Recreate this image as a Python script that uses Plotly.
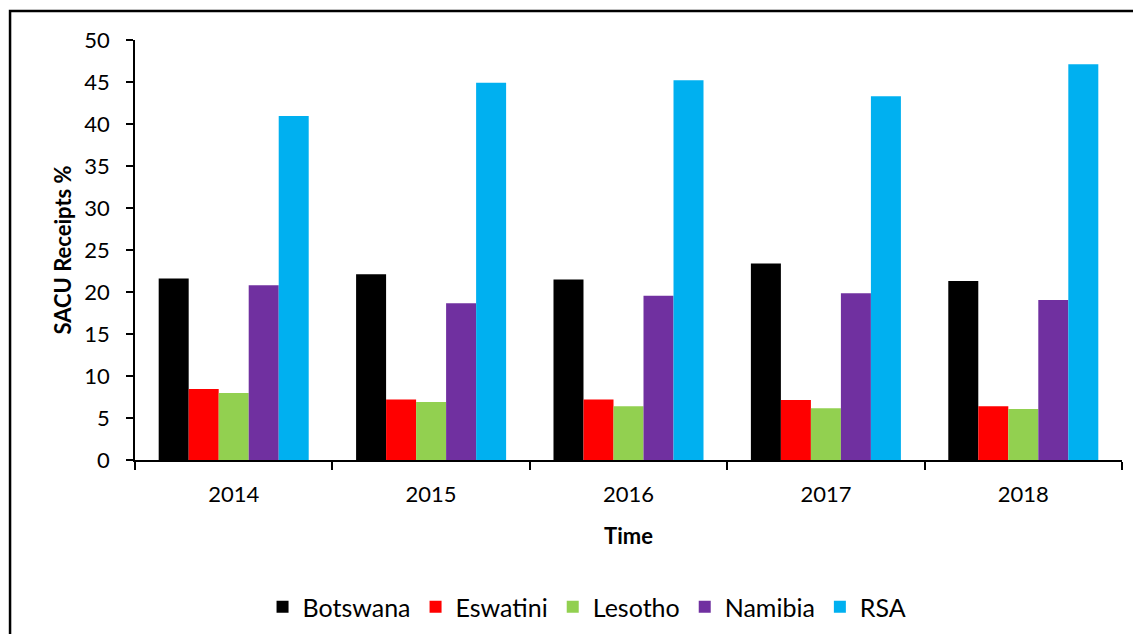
import plotly.graph_objects as go

# data
years = ["2014", "2015", "2016", "2017", "2018"]
botswana = [21.6, 22.1, 21.5, 23.4, 21.3]
eswatini = [8.45, 7.2, 7.2, 7.15, 6.4]
lesotho = [7.98, 6.9, 6.4, 6.15, 6.07]
namibia = [20.8, 18.65, 19.55, 19.85, 19.05]
rsa = [40.95, 44.9, 45.2, 43.3, 47.1]

series = [
    ("Botswana", botswana, "#000000"),
    ("Eswatini", eswatini, "#FF0000"),
    ("Lesotho", lesotho, "#92D050"),
    ("Namibia", namibia, "#7030A0"),
    ("RSA", rsa, "#00B0F0"),
]

fig = go.Figure()
for name, vals, col in series:
    fig.add_trace(go.Bar(name=name, x=years, y=vals, marker=dict(color=col, line=dict(width=0))))

font = "Lato, 'Open Sans', sans-serif"
# page body has an 8px margin, so the figure is a bit smaller than the window
fig.update_layout(
    width=1125, height=626,
    margin=dict(l=127, r=11, t=32, b=174, autoexpand=False),
    paper_bgcolor="white", plot_bgcolor="white",
    barmode="group", bargap=0.24, bargroupgap=0,
    font=dict(family=font, size=22, color="black"),
    legend=dict(orientation="h", x=0.458, xanchor="center",
                yref="container", y=0.043, yanchor="middle",
                font=dict(size=25), itemwidth=30, traceorder="normal"),
)
fig.update_xaxes(
    type="category", tickson="boundaries", ticks="outside", ticklen=8, tickwidth=1.5,
    showline=True, linecolor="black", linewidth=1.5, tickcolor="black",
    ticklabelstandoff=14, automargin=False,
    title=dict(text="<b>Time</b>", standoff=22, font=dict(size=22)),
)
fig.update_yaxes(
    range=[0, 50], dtick=5, ticks="outside", ticklen=7, tickwidth=1.5,
    showline=True, linecolor="black", linewidth=1.5, tickcolor="black",
    showgrid=False, zeroline=False, ticklabelstandoff=12, automargin=False,
    title=dict(text="<b>SACU Receipts %</b>", standoff=7, font=dict(size=22)),
)
# outer frame of the original figure
fig.add_shape(type="rect", xref="paper", yref="paper",
              x0=-0.1266, x1=1.2, y0=-0.6, y1=1.069,
              line=dict(color="black", width=2.5), fillcolor="rgba(0,0,0,0)")

fig.write_html("out.html")
